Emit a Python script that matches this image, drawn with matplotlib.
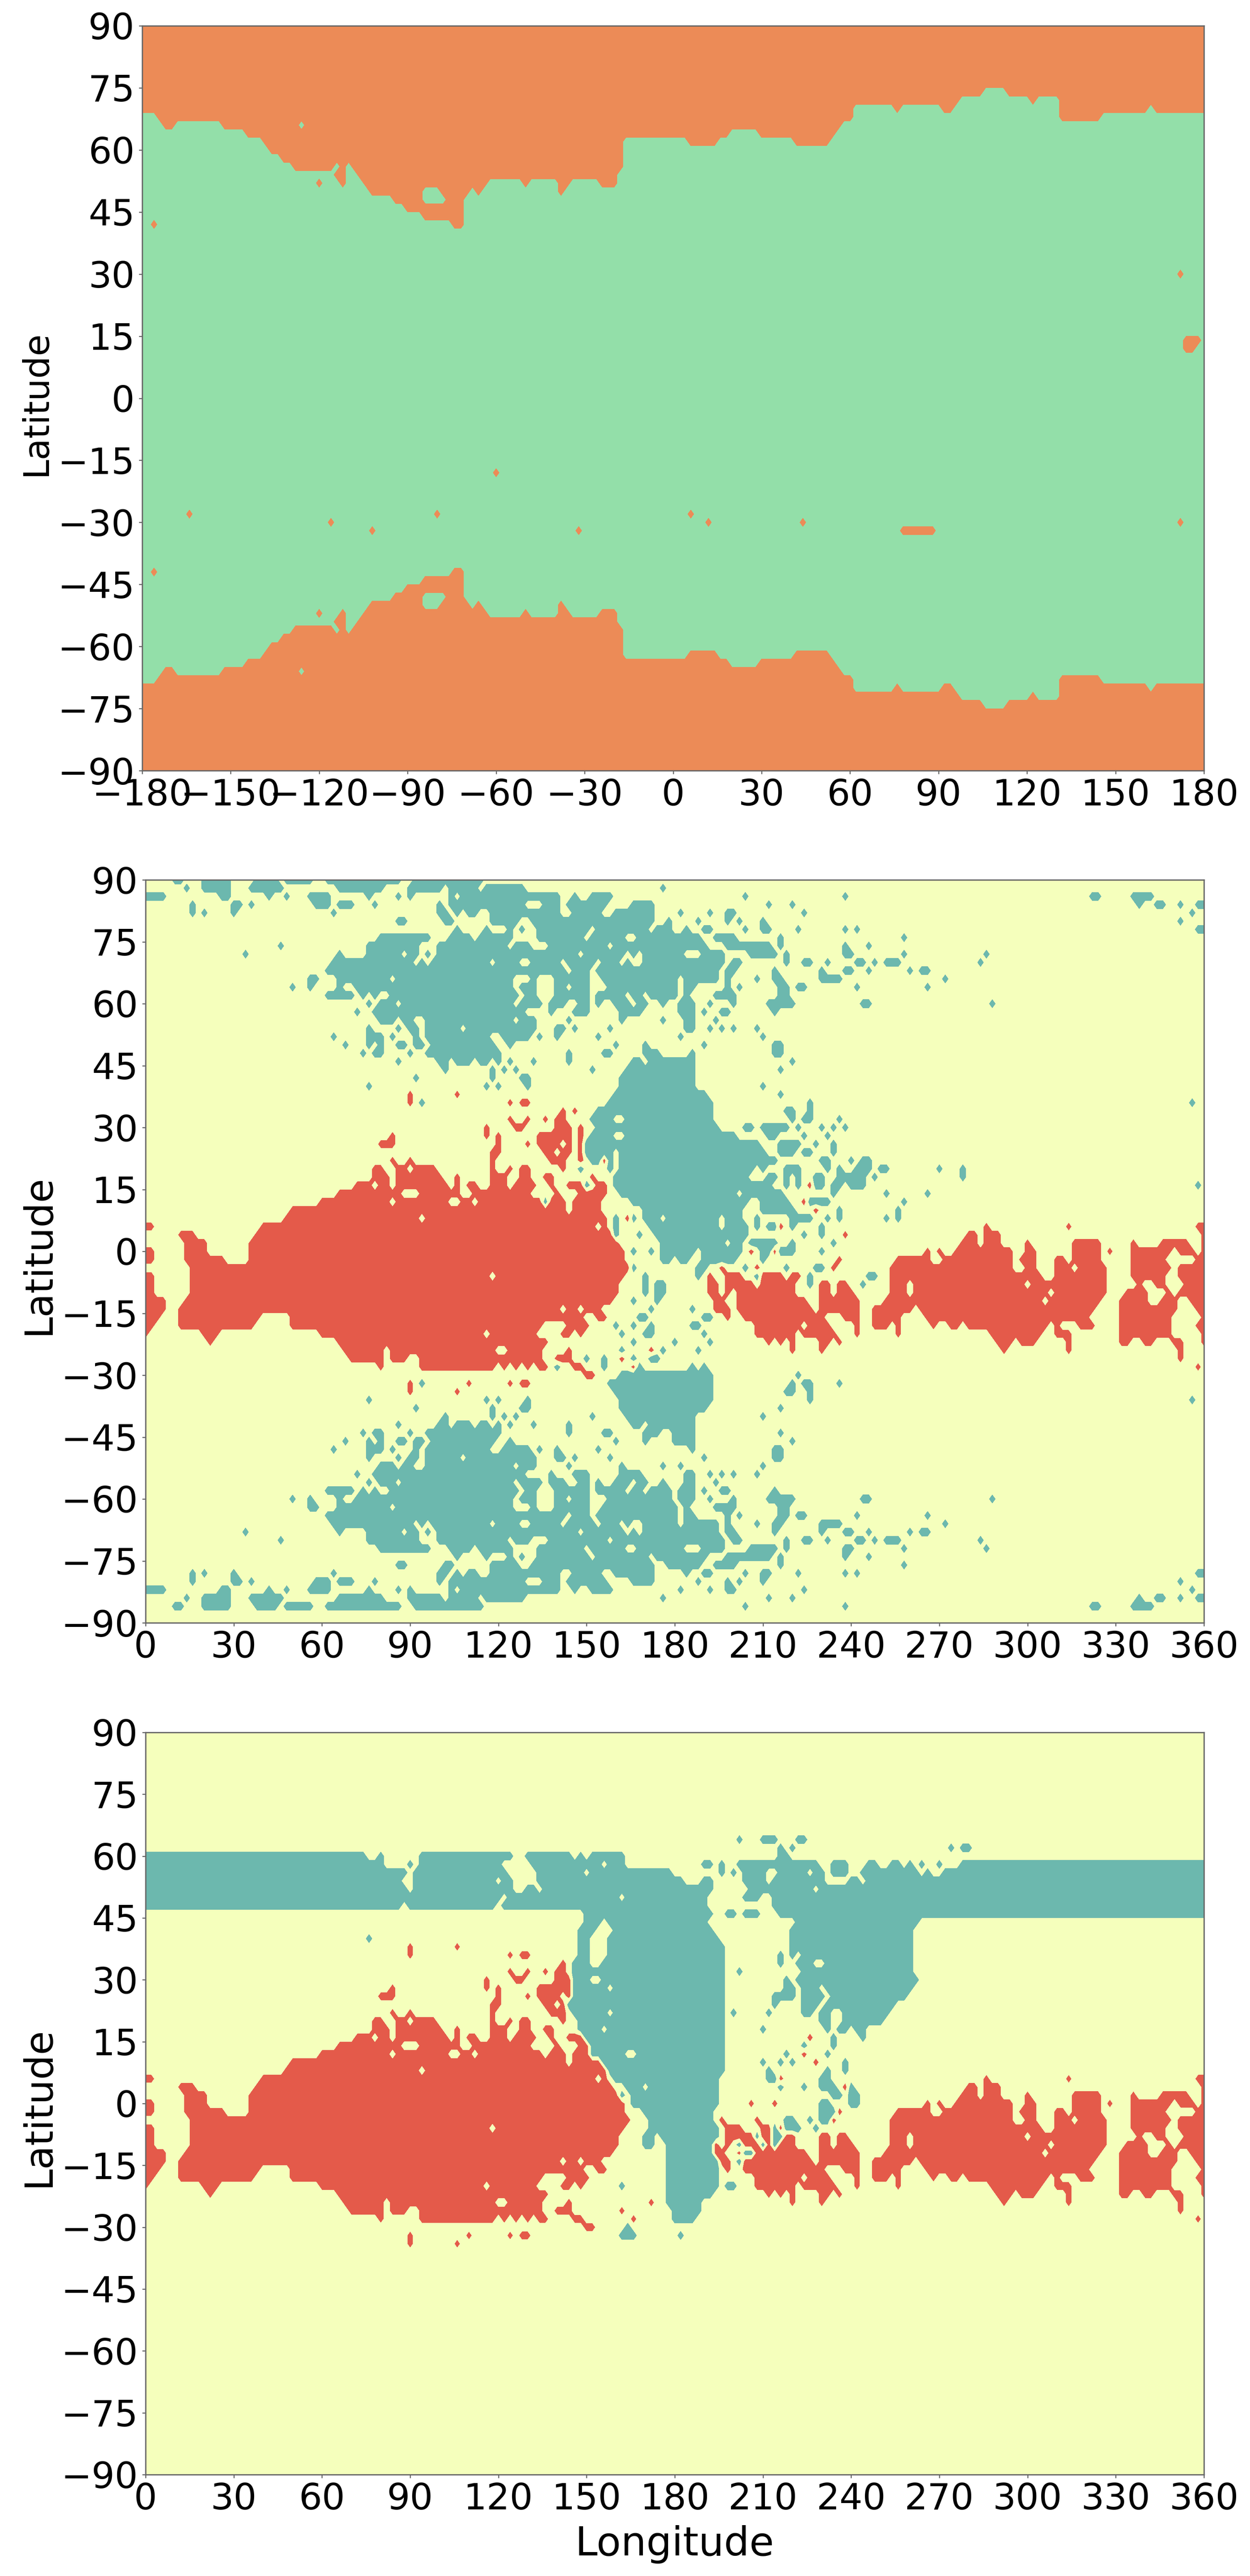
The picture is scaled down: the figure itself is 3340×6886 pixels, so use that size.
import numpy as np
import matplotlib
matplotlib.use('Agg')
import matplotlib.pyplot as plt

ORANGE = '#EC8B57'
GREEN = '#93DFA9'
RED = '#E45A4A'
YELLOW = '#F5FFBC'
TEAL = '#6CB8AE'

# top panel: latitude of the land edge, from each longitude eastwards
EDGE_LON = [-180, -174, -172, -168, -152, -144, -138, -136, -132, -128, -114, -112, -110, -108, -106,
            -104, -102, -94, -90, -84, -74, -70, -68, -66, -64, -62, -50, -48, -38, -36, -34, -24, -18,
            -16, 6, 16, 20, 30, 42, 54, 56, 58, 62, 76, 78, 92, 96, 98, 106, 114, 122, 124, 132, 146,
            162, 164]
EDGE_LAT = [69, 67, 65, 67, 65, 63, 61, 59, 57, 55, 53, 51, 57, 55, 53,
            51, 49, 47, 45, 43, 41, 49, 51, 49, 51, 53, 51, 53, 49, 51, 53, 51, 55,
            63, 61, 63, 65, 63, 61, 63, 65, 67, 71, 69, 71, 69, 71, 73, 75, 73, 71, 73, 67, 69,
            71, 69]
TOP_ORANGE_N = [(-176, 42), (172, 30), (174, 14), (176, 14), (178, 14), (174, 12), (176, 12), (-120, 52)]
TOP_ORANGE_S = [(-60, -18), (-164, -28), (-116, -30), (-102, -32), (-80, -28), (6, -28), (12, -30), (44, -30),
                (-32, -32), (172, -30), (-176, -42), (-120, -52)]
TOP_ORANGE_BAR = [78, 80, 82, 84, 86, 88]
TOP_GREEN = [(-126, 66), (-114, 56), (-84, 50), (-82, 50), (-80, 50), (-84, 48), (-82, 48), (-80, 48), (-78, 48)]

# lower panels: lon spans per latitude row, "a-b" or a single lon
RED_ROWS = {
    38: "90 106", 36: "90 124 128-130", 34: "142 146", 32: "124 130 136 140-142",
    30: "116 126-128 140-144 148", 28: "84 116 120 134-144 148",
    26: "80-84 120 130 134-136 138-140 144 148", 24: "118-120 136-138 142-144 148",
    22: "84 90 118 138-142 148 156", 20: "78-80 86-88 92-98 118 124 128-130 142",
    18: "78-82 86-100 106 118-122 128-130 136-138 152",
    16: "72-76 80-82 86-102 106 110-112 118-122 126-132 138 144-148 154-156 226",
    14: "66-86 94-106 112-130 140 148-152 154-156",
    12: "60-82 86-92 94-102 108-110 114-134 138-142 146-154 224",
    10: "50-142 146-154 228", 8: "48-92 96-156 164",
    6: "0-2 40-152 156 216 286 314 358-360", 4: "12-16 38-158 238 280-282 286-290 360",
    2: "14-20 36-160 278-282 286-290 300 316-324 336 346-354 360",
    0: "0-2 14-20 36-162 206 214 266 270 276-294 300-302 316-324 328 336-348 352-356 360",
    -2: "0-2 14-26 36-162 236 256-266 272-294 298-302 310-312 316-324 336-346 358-360",
    -4: "16-164 196 208 234 254-294 300-302 310-314 318-326 336-348 352-360",
    -6: "0-2 16-116 120-162 192 198-202 210-216 220-222 254-304 310-326 336-346 352-360",
    -8: "0-2 16-160 192-194 198-206 210-220 230-232 236-238 254-258 262-298 302-326 338 344-346 354-360",
    -10: "0-2 16-160 192-194 198 202-220 230-232 236-240 254-258 262-306 310-326 334-340 348 352-360",
    -12: "0-6 14-158 194-196 202-224 230-242 252-304 308-324 332-340 346-350 356-360",
    -14: "0-6 12-140 144-146 150-154 194-198 202-226 230-242 248-260 264-322 332-342 344-350 358-360",
    -16: "0-4 12-38 50-148 154-156 198 204-230 238-242 248-254 256 266-320 332-348 360",
    -18: "0-2 12-36 50-134 144-150 208-222 226-232 242 248-252 256 268 274-276 280-306 310 318-322 332-348 358-360",
    -20: "0 20-24 60-114 118-132 142-144 148 208-220 224-232 234 242 256 288-304 310-314 332-344 346-348 360",
    -22: "22 66-136 212 216 220 230-232 236 290-294 298-302 314 332-334 340-342 350-352 360",
    -24: "68-80 84-118 124-134 144 172 220 230 292 314 352",
    -26: "70-74 76-80 84-88 94-134 140-144 162 352",
    -28: "80 94-118 122 126 130 134-136 146-148 166 358",
    -30: "150-152", -32: "90 110 124 128-130", -34: "90 106",
}

MID_TEAL_N = {
    90: "10-12 20-28 38-44 48-56 62-86 92-114",
    88: "14 20-28 36-46 66-80 90-100 104-112 116-128 176",
    86: "0-6 26-28 42 48 56-62 76 86 90 104 108-140 146 152-158 204 238 322-324 336-342",
    84: "16 30-32 36 58-62 66-70 78 100 104-128 136-140 144-156 166-168 170-172 212 220 338 344-346 352 358-360",
    82: "16 20 30 64 100-102 106 110-112 118-140 146-154 160-172 182 192 198-200 224 356",
    80: "86-88 102-104 118-126 132-170 172 178 188 198 202 210 352",
    78: "106 116 124 128 134-150 154-170 174-178 184 190-192 204 210-212 222 238 242 358-360",
    76: "80-96 104-110 114-124 134-148 152-158 160-162 168-188 194-200 216 258",
    74: "46 76-92 100-102 104-122 126-130 138-156 160-190 198-212 216 238 246",
    72: "34 66 76-86 90-92 96 100-146 150-154 156-162 166 170-182 190-196 206-214 218 238-240 258 286",
    70: "64-90 94 98-116 120-126 132-140 144-152 156-160 164 170-196 200-202 218 224-226 232 242-244 248 252-256 284",
    68: "62-142 146-150 154-194 198-200 214 230 238-240 246 260 264-266",
    66: "56-58 66-82 86-124 132 140-150 156-180 184-194 198 208 214-216 230-236 272",
    64: "50 56 66 72-124 128-132 140-142 146-150 158-180 184-186 198 202 216-218 222-224 242 266",
    62: "62-70 74 78 84-126 130-132 140-148 150 154-162 166-168 172-180 184 194-200 216-218",
    60: "76 80-84 88-124 128-134 138-142 148-150 154 160-164 168-170 176 182-186 192 200 212-220 244-246 288",
    58: "72 78-80 82-128 138 146-150 162-168 182-186 190 196-198 214",
    56: "80-84 88-90 96-124 128-132 144 162 176 184-186 194",
    54: "76 86 90-92 96-106 110-132 140-142 146 158 184-186 192 196 200 208",
    52: "64 76-80 84 92 96-116 122-130 134 140 154 182 210",
    50: "68 76 80 86-88 92-94 98-118 124 160 170 190 214-216",
    48: "74 78-80 90 96-118 120 144 156-158 170 172-174 186 214-216",
    46: "86 100 102 106-110 114-116 120 124 132 144 166-168 172-186 220",
    44: "102 118 122 126 152 164-186 216",
    42: "92 118 128-130 162-186",
    40: "76 116 120 130 162-186 210",
    38: "160-190 216",
    36: "94 158-192 226 356",
    34: "154-192 218-220 226",
    32: "152-158 164-192 220 224-226 236",
}
MID_TEAL_REST = {
    30: "154-194 204-206 210-218 222 230 234 238",
    28: "152-158 164-198 200 212-214 224 232",
    26: "150-194 196-208 216-222 228 234",
    24: "150-158 162-210 216-220 224-226 234",
    22: "152-158 162-214 230-232 240 244-246",
    20: "148 158 162-206 210 218-222 232 236 242-246 250-252 270 278",
    18: "160-204 212-214 218 222 228-230 236-244 248 278",
    16: "150 160-206 208-212 218 222 228-230 234-236 240-244 358",
    14: "162-200 204-216 234 252 266",
    12: "136 166-204 210-218 226-232 258",
    10: "170-202 210-220 236 256",
    8: "160 166 170-174 178-194 198-202 208 220-226 232 236 252 256",
    6: "160 172-194 198-204 208 212-214 220 230",
    4: "160 168 174-186 188-202 204 224 230",
    2: "176-188 190-192 194-196 200-202 206-212 214 220 234",
    0: "166 172 176-186 190-202 210-212 216-220 230",
    -2: "176-178 182-184 190-200 210",
    -4: "166 188-190 204 218 228-230",
    -6: "170 188 208 226 246-248",
    -8: "170 174-176 226 244",
    -10: "170 174-176",
    -12: "166 174",
    -14: "172 186",
    -16: "168-170 190-192",
    -18: "160 166 172 186-188",
    -20: "162 170 172 190",
    -22: "166 180 192",
    -24: "162 176 188",
    -26: "150 156 166 172-174",
    -28: "140 156 168 186 190",
    -30: "162-186 188-192 222",
}

BOT_TEAL = {
    64: "202 210-214 222-224",
    62: "216 220 274 278-280",
    60: "0-74 80 94-124 130-144 148 152-162 216-218",
    58: "0-80 90 94-120 132-154 158-162 190-192 196 202-228 234-238 246-248 254-256 260 264 270 278-360",
    56: "0-84 86-88 92-122 134-148 152-178 196 200 204-210 216-224 228-230 234-238 244-262 266 272-360",
    54: "0-86 92-118 122-124 134-182 190-192 204-210 214-230 240-242 246-360",
    52: "0-88 92-124 130-132 136-192 206-226 230-360",
    50: "0-120 124-160 164-190 204-206 208 214-360",
    48: "0-86 90-118 122-190 214-360",
    46: "150-192 198-200 204-208 216-360",
    44: "150-154 158-190 222-262",
    42: "148-152 160-192 220-260",
    40: "76 148-150 158-194 220-260",
    38: "148-150 158-196 220-260",
    36: "148-150 158-196 216 220 224-260",
    34: "146-150 156-196 216 222-226 232-260",
    32: "146-196 202 224-260",
    30: "146-150 156-196 218 222-262",
    28: "146-156 160-196 218-220 224-228 232-260",
    26: "146-196 214-220 224-230 234-258",
    24: "144-196 214 224-228 232-254",
    22: "146-156 160-196 200 212 224-226 230-232 238-252",
    20: "148-196 230-232 238-250",
    18: "148-154 158-196 210 232 236-238 242-244",
    16: "150-196 234 244",
    14: "152-196 224 234",
    12: "152-162 168-196 218 232",
    10: "156-196 210 216 220 238",
    8: "158-196 212 232 238",
    6: "160-194 212-214 230-232",
    4: "164-168 172-194 216 224 230-234 240",
    2: "162 166-194 234-236 240-242",
    0: "166-194 230-232 240-242",
    -2: "170-192 230-234",
    -4: "172-192 218-220 226 230-232",
    -6: "172-194 214 218-222 228",
    -8: "170-172 176-194 208 214-216",
    -10: "170-172 178-192 202 210 214",
    -12: "178-192 204-206",
    -14: "178-194 202",
    -16: "178-194",
    -18: "178-194",
    -20: "162 178-194 198-200",
    -22: "178-192",
    -24: "178-188",
    -26: "180-188",
    -28: "180-186",
    -30: "164",
    -32: "162-166 182",
}

LAT = np.arange(-90, 92, 2)
LON_TOP = np.arange(-180, 182, 2)
LON = np.arange(0, 362, 2)


def spans(text):
    out = []
    for tok in text.split():
        a, _, b = tok.partition('-')
        out.append((int(a), int(b) if b else int(a)))
    return out


def paint(grid, lat, text, value, lo=0, hi=360, keep=None):
    row = (lat + 90) // 2
    for a, b in spans(text):
        for lon in range(a, b + 1, 2):
            if lo <= lon <= hi and grid[row, lon // 2] != keep:
                grid[row, lon // 2] = value


def top_grid():
    grid = np.zeros((len(LAT), len(LON_TOP)))
    for j, lon in enumerate(LON_TOP):
        edge = EDGE_LAT[np.searchsorted(EDGE_LON, lon, side='right') - 1]
        grid[np.abs(LAT) > edge, j] = 1
    for lon, lat in TOP_ORANGE_N + TOP_ORANGE_S:
        grid[(lat + 90) // 2, (lon + 180) // 2] = 1
    for lon in TOP_ORANGE_BAR:
        grid[(-32 + 90) // 2, (lon + 180) // 2] = 1
    for lon, lat in TOP_GREEN:
        grid[(lat + 90) // 2, (lon + 180) // 2] = 0
        grid[(-lat + 90) // 2, (lon + 180) // 2] = 0
    return grid


def middle_grid():
    grid = np.zeros((len(LAT), len(LON)))
    for lat, text in MID_TEAL_N.items():
        paint(grid, lat, text, 1)
        # south side repeats the north, with an offset west of 180
        if lat >= 36:
            paint(grid, 4 - lat, text, 1, hi=178)
        paint(grid, -lat, text, 1, lo=180)
    for lat, text in MID_TEAL_REST.items():
        paint(grid, lat, text, 1)
    for lat, text in RED_ROWS.items():
        paint(grid, lat, text, -1)
    return grid


def bottom_grid():
    grid = np.zeros((len(LAT), len(LON)))
    for lat, text in BOT_TEAL.items():
        paint(grid, lat, text, 1)
    # same red as the middle panel, but the teal trunk stays on top
    for lat, text in RED_ROWS.items():
        paint(grid, lat, text, -1, keep=1)
    return grid


def style(ax, xticks, xlim):
    ax.set_xlim(xlim)
    ax.set_ylim(-90, 90)
    ax.set_xticks(xticks)
    ax.set_yticks(np.arange(-90, 105, 15))
    ax.tick_params(labelsize=70, length=6.5, width=2, color='#666666', pad=8)
    for s in ax.spines.values():
        s.set_color('#666666')
        s.set_linewidth(2.5)


W, H = 3340, 6886
fig = plt.figure(figsize=(W / 100, H / 100), dpi=100)


def add_axes(x0, x1, y0, y1):
    return fig.add_axes([x0 / W, 1 - y1 / H, (x1 - x0) / W, (y1 - y0) / H])


ax1 = add_axes(380, 3217, 69, 2060)
ax1.contourf(LON_TOP, LAT, top_grid(), levels=[-0.5, 0.5, 1.5], colors=[GREEN, ORANGE])
style(ax1, np.arange(-180, 210, 30), (-180, 180))
ax1.set_ylabel('Latitude', fontsize=68)
ax1.yaxis.set_label_coords(-0.0837, 0.4935)

ax2 = add_axes(389, 3217, 2352, 4338)
ax2.contourf(LON, LAT, middle_grid(), levels=[-1.5, -0.5, 0.5, 1.5], colors=[RED, YELLOW, TEAL])
style(ax2, np.arange(0, 390, 30), (0, 360))
ax2.set_ylabel('Latitude', fontsize=75)
ax2.yaxis.set_label_coords(-0.0836, 0.4957)

ax3 = add_axes(389, 3217, 4631, 6615)
ax3.contourf(LON, LAT, bottom_grid(), levels=[-1.5, -0.5, 0.5, 1.5], colors=[RED, YELLOW, TEAL])
style(ax3, np.arange(0, 390, 30), (0, 360))
ax3.set_ylabel('Latitude', fontsize=75)
ax3.yaxis.set_label_coords(-0.0836, 0.4957)
ax3.set_xlabel('Longitude', fontsize=77)
ax3.xaxis.set_label_coords(0.5, -0.068)

fig.savefig('out.png', dpi=100)
